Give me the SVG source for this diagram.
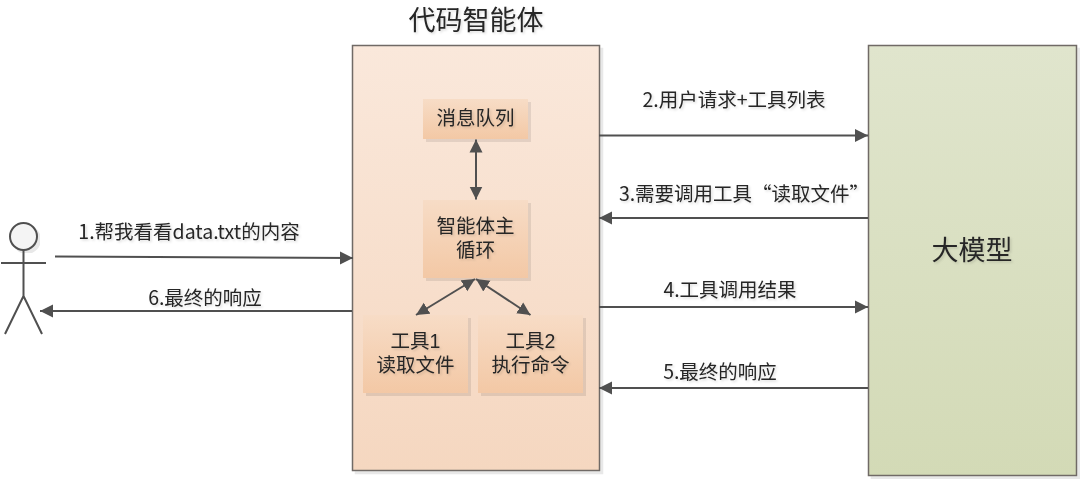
<svg xmlns="http://www.w3.org/2000/svg" width="1080" height="479" viewBox="0 0 1080 479">
<style>
text{font-family:"Noto Sans CJK SC","Liberation Sans",sans-serif;fill:#262626;text-anchor:middle;font-size:19.5px;filter:url(#ts)}
text.ml{font-family:"Liberation Sans","Noto Sans CJK SC",sans-serif}
.box{stroke:#6f6a66;stroke-width:1.5}
.a{fill:none;stroke:#505050;stroke-width:2;marker-end:url(#ah)}
.ab{fill:none;stroke:#505050;stroke-width:2;marker-start:url(#ah);marker-end:url(#ah)}
.small{fill:url(#gs);filter:url(#sh)}
.actor{fill:none;stroke:#505050;stroke-width:2}
</style>
<defs>
<linearGradient id="go" x1="0" y1="0" x2="0" y2="1"><stop offset="0" stop-color="#fae8db"/><stop offset="1" stop-color="#f5d7c0"/></linearGradient>
<linearGradient id="gg" x1="0" y1="0" x2="0" y2="1"><stop offset="0" stop-color="#e0e5cd"/><stop offset="1" stop-color="#d3dab6"/></linearGradient>
<linearGradient id="gs" x1="0" y1="0" x2="0" y2="1"><stop offset="0" stop-color="#f7dcc6"/><stop offset="1" stop-color="#f3c8a5"/></linearGradient>
<filter id="sh" x="-10%" y="-10%" width="120%" height="120%"><feDropShadow dx="3" dy="3" stdDeviation="0.5" flood-color="#000" flood-opacity="0.09"/></filter>
<filter id="ts" x="-5%" y="-10%" width="110%" height="130%"><feDropShadow dx="1.5" dy="1.5" stdDeviation="0.8" flood-color="#000" flood-opacity="0.14"/></filter>
<marker id="ah" markerUnits="userSpaceOnUse" markerWidth="14" markerHeight="14" refX="13" refY="7" orient="auto-start-reverse"><path d="M0,0.5 L13,7 L0,13.5 Z" fill="#505050"/></marker>
</defs>
<text x="476" y="30" style="font-size:27px">代码智能体</text>
<g id="agent"><rect class="box" x="352.500" y="45.500" width="247" height="425" fill="url(#go)" filter="url(#sh)"/></g>
<g id="model"><rect class="box" x="868.500" y="45.500" width="208" height="430" fill="url(#gg)" filter="url(#sh)"/><text x="972" y="260" style="font-size:27px">大模型</text></g>
<g id="queue"><rect class="small" x="423" y="99" width="105" height="40"/><text x="475.500" y="125">消息队列</text></g>
<g id="loop"><rect class="small" x="423" y="200" width="105" height="78"/><text class="ml" x="475.500" y="233">智能体主<tspan x="475.500" dy="24">循环</tspan></text></g>
<g id="tool1"><rect class="small" x="363" y="315" width="105" height="78"/><text class="ml" x="415.500" y="348">工具1<tspan x="415.500" dy="24">读取文件</tspan></text></g>
<g id="tool2"><rect class="small" x="478" y="315" width="105" height="78"/><text class="ml" x="530.500" y="348">工具2<tspan x="530.500" dy="24">执行命令</tspan></text></g>
<g id="user"><circle cx="23.500" cy="236.500" r="13.500" fill="#f4f4f4" stroke="#505050" stroke-width="2" filter="url(#sh)"/><path class="actor" d="M23.500,250V296M1,263H46M23.500,296L5,334M23.500,296L42,334"/></g>
<g id="connectors">
<path class="a" d="M55,256.500L353,258"/>
<path class="a" d="M352,311H40"/>
<path class="ab" d="M476,139.500V199.500"/>
<path class="ab" d="M416,315L475,279"/>
<path class="ab" d="M530.500,315L476,279"/>
<path class="a" d="M599,135.500H868"/>
<path class="a" d="M868,218H599"/>
<path class="a" d="M599,307H868"/>
<path class="a" d="M868,388H599"/>
</g>
<g id="labels">
<text x="189" y="239">1.帮我看看data.txt的内容</text>
<text x="205" y="305">6.最终的响应</text>
<text x="734" y="107">2.用户请求+工具列表</text>
<text x="744" y="201">3.需要调用工具“读取文件”</text>
<text x="730" y="297">4.工具调用结果</text>
<text x="720" y="379">5.最终的响应</text>
</g>
</svg>
